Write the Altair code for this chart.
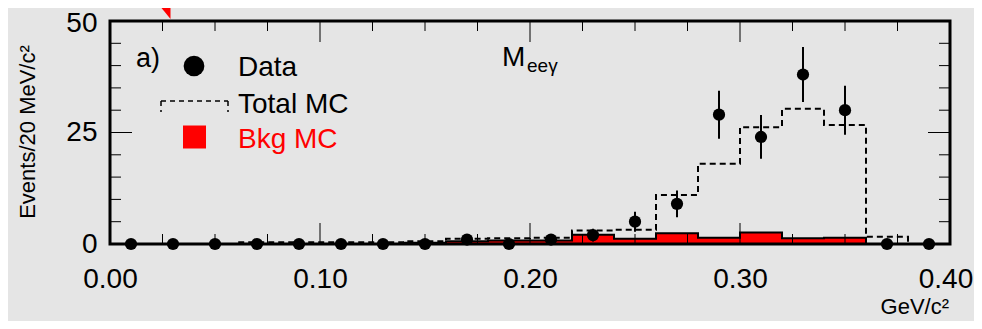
import altair as alt
import pandas as pd

# ---- data ----
bin_lo = [0.00, 0.02, 0.04, 0.06, 0.08, 0.10, 0.12, 0.14, 0.16, 0.18,
          0.20, 0.22, 0.24, 0.26, 0.28, 0.30, 0.32, 0.34, 0.36, 0.38]
bin_width = 0.02
data_counts = [0, 0, 0, 0, 0, 0, 0, 0, 1, 0, 1, 2, 5, 9, 29, 24, 38, 30, 0, 0]
mc_total = [0, 0, 0, 0.4, 0.4, 0.4, 0.4, 0.6, 1.2, 1.3, 1.4, 3.0, 3.2, 11, 18, 26.2, 30.3, 26.7, 1.6, 0]
bkg_mc = [0, 0, 0, 0, 0, 0, 0, 0.3, 0.6, 0.8, 0.8, 2.1, 1.2, 2.4, 1.4, 2.6, 1.3, 1.4, 0, 0]

x_tick_labels = [0.0, 0.1, 0.2, 0.3]
x_last_label = [0.4]
y_tick_labels = [0, 25, 50]
x_major = [0.1, 0.2, 0.3]
x_minor = [0.025, 0.05, 0.075, 0.125, 0.15, 0.175, 0.225, 0.25, 0.275, 0.325, 0.35, 0.375]
y_major = [25]
y_minor = [5, 10, 15, 20, 30, 35, 40, 45]

# ---- tables ----
edges = bin_lo + [bin_lo[-1] + bin_width]
mc_step = pd.DataFrame({"x": edges, "y": mc_total + [mc_total[-1]]})
bkg_step = pd.DataFrame({"x": edges, "y": bkg_mc + [bkg_mc[-1]]})
bkg_rect = pd.DataFrame({"lo": bin_lo, "hi": [b + bin_width for b in bin_lo], "y": bkg_mc})
centers = [round(b + bin_width / 2, 3) for b in bin_lo]
pts = pd.DataFrame({"x": centers, "n": data_counts})
pts["lo"] = pts["n"] - pts["n"] ** 0.5
pts["hi"] = pts["n"] + pts["n"] ** 0.5
err = pts[pts["n"] > 0]
one = pd.DataFrame({"t": [0]})

W, H = 840, 223
FONT = "Liberation Sans"

xs = alt.Scale(domain=[0, 0.4], nice=False, zero=False)
ys = alt.Scale(domain=[0, 50], nice=False)
xaxis = alt.Axis(values=x_tick_labels, format=".2f", labelFontSize=28, labelFont=FONT,
                 labelColor="black", labelPadding=21, ticks=False, tickSize=0, domain=False,
                 grid=False, title=None, labelFlush=False, labelOverlap=False)
yaxis = alt.Axis(values=y_tick_labels, format="d", labelFontSize=28, labelFont=FONT,
                 labelColor="black", labelPadding=13, ticks=False, tickSize=0, domain=False,
                 grid=False, title=None, labelFlush=False, labelOverlap=False,
                 labelOffset={"condition": {"test": "datum.value >= 50", "value": 2}, "value": 0})


def X(f):
    return alt.X(f, type="quantitative", scale=xs, axis=xaxis)


def Y(f):
    return alt.Y(f, type="quantitative", scale=ys, axis=yaxis)


bkg_fill = alt.Chart(bkg_rect).mark_rect(color="#ff0000").encode(
    x=X("lo"), x2="hi", y=Y("y"), y2=alt.datum(0))
bkg_line = alt.Chart(bkg_step).mark_line(interpolate="step-after", color="black",
                                         strokeWidth=2).encode(x=X("x"), y=Y("y"))
mc_line = alt.Chart(mc_step).mark_line(interpolate="step-after", color="black",
                                       strokeWidth=2, strokeDash=[6, 4]).encode(x=X("x"), y=Y("y"))

tk = dict(color="black", strokeWidth=1)
ticks = [
    alt.Chart(pd.DataFrame({"v": y_minor})).mark_rule(**tk).encode(y=Y("v"), x=alt.value(0), x2=alt.value(11)),
    alt.Chart(pd.DataFrame({"v": y_major})).mark_rule(**tk).encode(y=Y("v"), x=alt.value(0), x2=alt.value(22)),
    alt.Chart(pd.DataFrame({"v": y_minor})).mark_rule(**tk).encode(y=Y("v"), x=alt.value(W - 11), x2=alt.value(W)),
    alt.Chart(pd.DataFrame({"v": y_major})).mark_rule(**tk).encode(y=Y("v"), x=alt.value(W - 22), x2=alt.value(W)),
    alt.Chart(pd.DataFrame({"v": x_minor})).mark_rule(**tk).encode(x=X("v"), y=alt.value(H - 10), y2=alt.value(H)),
    alt.Chart(pd.DataFrame({"v": x_major})).mark_rule(**tk).encode(x=X("v"), y=alt.value(H - 21), y2=alt.value(H)),
    alt.Chart(pd.DataFrame({"v": x_minor})).mark_rule(**tk).encode(x=X("v"), y=alt.value(0), y2=alt.value(10)),
    alt.Chart(pd.DataFrame({"v": x_major})).mark_rule(**tk).encode(x=X("v"), y=alt.value(0), y2=alt.value(21)),
]

frame = alt.Chart(one).mark_rect(filled=False, stroke="black", strokeWidth=3).encode(
    x=alt.value(0), x2=alt.value(W), y=alt.value(0), y2=alt.value(H))

errbars = alt.Chart(err).mark_rule(color="black", strokeWidth=2).encode(
    x=X("x"), y=Y("lo"), y2="hi")
dots = alt.Chart(pts).mark_circle(color="black", opacity=1, size=150).encode(x=X("x"), y=Y("n"))

last_label = alt.Chart(pd.DataFrame({"v": x_last_label})).mark_text(
    font=FONT, fontSize=28, color="black", align="center", baseline="alphabetic", dx=-4
).encode(x=X("v"), y=alt.value(H + 44), text=alt.Text("v:Q", format=".2f"))


def txt(s, x, y, size=28, color="black", align="left", angle=0, baseline="alphabetic"):
    kw = dict(font=FONT, fontSize=size, color=color, align=align, baseline=baseline)
    if angle:
        kw["angle"] = angle
    return alt.Chart(one).mark_text(**kw).encode(x=alt.value(x), y=alt.value(y), text=alt.value(s))


dash_kw = dict(color="black", strokeWidth=1.5, strokeDash=[5, 4])
legend = [
    txt("a)", 26, 46, size=27),
    alt.Chart(one).mark_circle(color="black", opacity=1, size=430).encode(x=alt.value(84), y=alt.value(45)),
    txt("Data", 128, 55),
    alt.Chart(one).mark_rule(**dash_kw).encode(x=alt.value(51), x2=alt.value(118), y=alt.value(80)),
    alt.Chart(one).mark_rule(**dash_kw).encode(x=alt.value(51), y=alt.value(80), y2=alt.value(91)),
    alt.Chart(one).mark_rule(**dash_kw).encode(x=alt.value(118), y=alt.value(80), y2=alt.value(91)),
    txt("Total MC", 128, 92),
    alt.Chart(one).mark_point(shape="square", filled=True, color="#ff0000", opacity=1, size=529).encode(
        x=alt.value(84.5), y=alt.value(116)),
    txt("Bkg MC", 128, 127, color="#ff0000"),
    txt("M", 392, 45),
    txt("eeγ", 417, 51, size=19),
    txt("Events/20 MeV/c²", -75, 111, size=22, align="center", angle=270),
    txt("GeV/c²", 839, 293, size=22, align="right"),
    alt.Chart(one).mark_point(shape="M -0.816 -1 L 0.816 -1 L 0.816 1 Z", filled=True, color="#ff0000",
                              opacity=1, size=361, strokeWidth=0).encode(x=alt.value(52.75), y=alt.value(-11.5)),
]

chart = alt.layer(bkg_fill, bkg_line, mc_line, *ticks, frame, errbars, dots, last_label, *legend).properties(
    width=W, height=H,
    autosize=alt.AutoSizeParams(type="none"),
    padding={"left": 102, "top": 13, "right": 24, "bottom": 77},
    background="#e5e5e5",
).configure_view(stroke=None, fill="#e5e5e5")

chart.save("out.html", embed_options={"renderer": "svg", "actions": False})
